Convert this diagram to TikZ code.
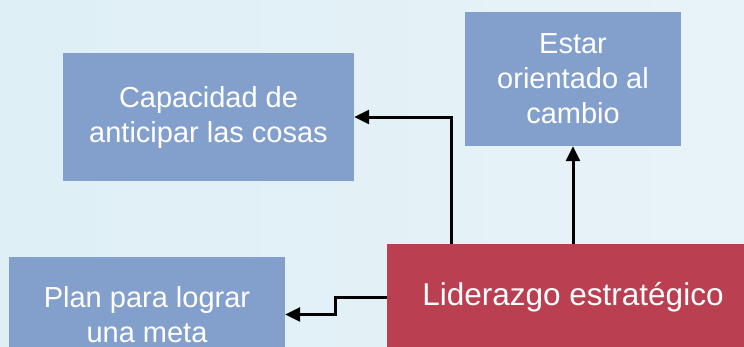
\documentclass[tikz,border=0pt]{standalone}
\usepackage{fontspec}
\setmainfont{Liberation Sans}
\usetikzlibrary{arrows.meta}

\begin{document}
\begin{tikzpicture}[x=1pt,y=-1pt,
    caja/.style={fill=custcol_83_a0_cd, text=white, align=center, inner sep=0pt,
                 font=\fontsize{29pt}{35pt}\selectfont},
    conn/.style={line width=3pt, black, -{Triangle[length=15pt,width=14pt]}}]
	\definecolor{custcol_de_ef_f6}{RGB}{222, 239, 246}
	\definecolor{custcol_e8_f3_f8}{RGB}{232, 243, 248}
	\definecolor{custcol_83_a0_cd}{RGB}{131, 160, 205}
	\definecolor{custcol_ba_3f_51}{RGB}{186, 63, 81}
	\useasboundingbox (0,0) rectangle (744,346);
	\shade [left color=custcol_de_ef_f6, right color=custcol_e8_f3_f8] (0,0) rectangle (744,346);
	% cajas
	\node[caja, minimum width=291pt, minimum height=128pt] (cap) at (208.5,117) {Capacidad de\\anticipar las cosas};
	\node[caja, minimum width=216pt, minimum height=134pt] (est) at (573,79) {Estar\\orientado al\\cambio};
	\node[caja, minimum width=276pt, minimum height=115pt] (plan) at (147,314.5) {Plan para lograr\\una meta};
	\node[caja, fill=custcol_ba_3f_51, minimum width=372pt, minimum height=106pt,
	      font=\fontsize{31.5pt}{35pt}\selectfont] (lid) at (573,297) {Liderazgo estratégico};
	% conectores
	\draw[conn] ([xshift=65pt]lid.north west) |- (cap.east);
	\draw[conn] (lid.north) -- (est.south);
	\draw[conn] (lid.west) -- ++(-51,0) |- (plan.east);
\end{tikzpicture}
\end{document}
